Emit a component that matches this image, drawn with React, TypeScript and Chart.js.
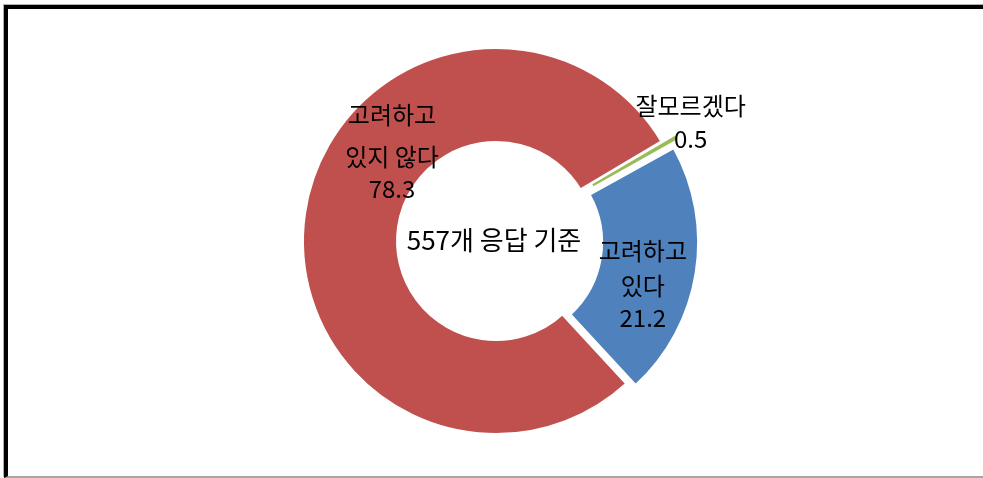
import React, { useEffect, useRef } from "react";
import { Chart, registerables } from "chart.js";

Chart.register(...registerables);

// ---- data ----
const categories = ["고려하고\n있다", "고려하고\n있지 않다", "잘모르겠다"];
const values = [21.2, 78.3, 0.5];
const colors = ["#4F81BD", "#C0504D", "#9BBB59"];
// Chart.js 4 draws an arc's offset at a quarter of the option value
const explode = [32, 0, 28];
const borders = [2, 4, 0];
const centerText = "557개 응답 기준";

// label placement: angle (deg, clockwise from top), distance from centre, line y-offsets
const labelAngles = [106.3, -49.4, 58.6];
const labelDistances = [153, 137, 228];
const labelLineOffsets = [
  [-33, 2, 34],
  [-37, 5, 37],
  [-16, 17],
];

const FONT = "'Noto Sans CJK KR', 'Malgun Gothic', sans-serif";
const FONT_SIZE = 24;
const CENTER_FONT_SIZE = 26;

const labelPlugin = {
  id: "sliceLabels",
  afterDatasetsDraw(chart: any) {
    const ctx = chart.ctx as CanvasRenderingContext2D;
    const area = chart.chartArea;
    const cx = (area.left + area.right) / 2;
    const cy = (area.top + area.bottom) / 2;
    ctx.save();
    ctx.fillStyle = "#000";
    ctx.font = `${FONT_SIZE}px ${FONT}`;
    ctx.textAlign = "center";
    ctx.textBaseline = "middle";
    values.forEach((v, i) => {
      const a = (labelAngles[i] * Math.PI) / 180;
      const x = cx + Math.sin(a) * labelDistances[i];
      const y = cy - Math.cos(a) * labelDistances[i];
      const lines = [...categories[i].split("\n"), v.toFixed(1)];
      lines.forEach((t, j) => {
        ctx.fillText(t, x, y + labelLineOffsets[i][j]);
      });
    });
    ctx.font = `${CENTER_FONT_SIZE}px ${FONT}`;
    ctx.fillText(centerText, cx - 2, cy - 1);
    ctx.restore();
  },
};

export default function App() {
  const ref = useRef<HTMLCanvasElement | null>(null);
  useEffect(() => {
    if (!ref.current) return;
    const chart = new Chart(ref.current, {
      type: "doughnut",
      data: {
        labels: categories.map((c) => c.replace("\n", " ")),
        datasets: [
          {
            data: values,
            backgroundColor: colors,
            borderColor: "#ffffff",
            borderWidth: borders,
            offset: explode,
            hoverOffset: 0,
            hoverBorderWidth: 0,
          },
        ],
      },
      options: {
        responsive: false,
        animation: false,
        rotation: 61,
        radius: 194,
        cutout: "50.5%",
        layout: { padding: { left: 9, top: 4, right: 0, bottom: 0 } },
        plugins: {
          legend: { display: false },
          tooltip: { enabled: false },
          title: { display: false },
        },
        events: [],
      },
      plugins: [labelPlugin],
    });
    return () => chart.destroy();
  }, []);

  return (
    <div
      style={{
        position: "fixed",
        left: 0,
        top: 0,
        width: 983,
        height: 478,
        overflow: "hidden",
        background: "#fff",
      }}
    >
      <div
        style={{
          position: "absolute",
          left: 4,
          top: 5,
          right: -20,
          bottom: 0,
          boxSizing: "border-box",
          borderTop: "4px solid #000",
          borderLeft: "4px solid #000",
          borderBottom: "2px solid #a6a6a6",
          boxShadow: "-1px -1px 0 #b0b0b0",
        }}
      />
      <canvas
        ref={ref}
        width={983}
        height={478}
        style={{ position: "absolute", left: 0, top: 0, width: 983, height: 478 }}
      />
    </div>
  );
}
